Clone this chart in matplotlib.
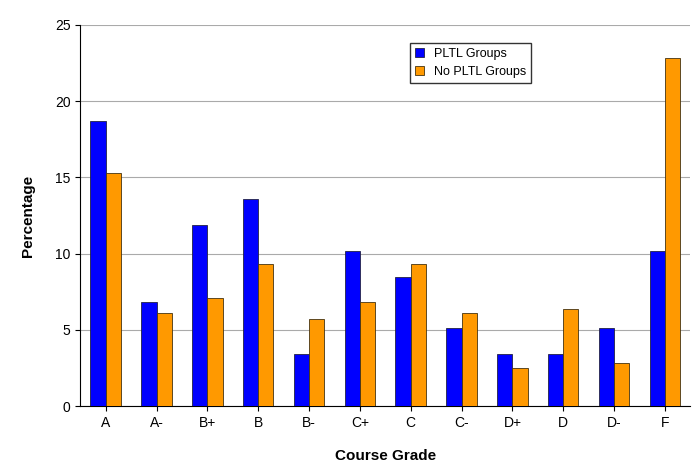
import numpy as np
import matplotlib.pyplot as plt

grades = ["A", "A-", "B+", "B", "B-", "C+", "C", "C-", "D+", "D", "D-", "F"]
pltl = [18.7, 6.8, 11.9, 13.6, 3.4, 10.2, 8.5, 5.1, 3.4, 3.4, 5.1, 10.2]
no_pltl = [15.3, 6.1, 7.1, 9.3, 5.7, 6.8, 9.3, 6.1, 2.5, 6.4, 2.8, 22.8]

plt.rcParams['font.family'] = ['Liberation Sans', 'DejaVu Sans']
fig = plt.figure(figsize=(6.98, 4.62), dpi=100)
ax = fig.add_axes([0.115, 0.121, 0.874, 0.825])

x = np.arange(len(grades))
w = 0.3
ax.bar(x - w / 2, pltl, w, color="#0000ff", edgecolor="#222244", linewidth=0.6,
       label="PLTL Groups", zorder=3)
ax.bar(x + w / 2, no_pltl, w, color="#ff9900", edgecolor="#443311", linewidth=0.6,
       label="No PLTL Groups", zorder=3)

ax.set_xlim(-0.5, len(grades) - 0.5)
ax.set_ylim(0, 25)
ax.set_yticks(range(0, 26, 5))
ax.set_xticks(x)
ax.set_xticklabels(grades)
ax.tick_params(labelsize=10)
ax.yaxis.grid(True, color="#aaaaaa", linewidth=0.8, zorder=0)
for s in ["top", "right"]:
    ax.spines[s].set_visible(False)
ax.set_ylabel("Percentage", fontsize=11, fontweight="bold", labelpad=14)
ax.set_xlabel("Course Grade", fontsize=11, fontweight="bold", labelpad=14)

ax.legend(loc="upper left", bbox_to_anchor=(0.53, 0.97), fontsize=9,
          frameon=True, fancybox=False, edgecolor="black",
          handlelength=0.7, handleheight=0.7)

fig.savefig("out.png", dpi=100)
